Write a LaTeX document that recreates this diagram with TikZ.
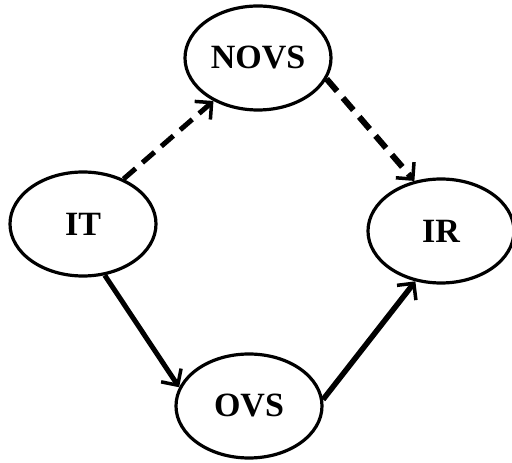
\documentclass[tikz,border=0pt]{standalone}
\usepackage{fontspec}
\setmainfont{Liberation Serif}
\usetikzlibrary{arrows.meta,shapes.geometric}
\begin{document}
\begin{tikzpicture}[x=1pt,y=1pt,
  ell/.style={draw, ellipse, line width=3.2pt, minimum width=146pt, minimum height=104pt, inner sep=0pt, font=\fontsize{34}{36}\selectfont\bfseries},
  conn/.style={line width=5pt, -{Straight Barb[length=12pt,width=24pt,line width=3.5pt]}},
  dconn/.style={conn, dash pattern=on 16pt off 9pt}]
\useasboundingbox (0,0) rectangle (512,463);
\node[ell] (NOVS) at (258,405) {NOVS};
\node[ell] (IT) at (83,239) {IT};
\node[ell] (IR) at (441,232) {IR};
\node[ell] (OVS) at (249,57) {OVS};
\draw[dconn] (IT.48) -- (NOVS.224);
\draw[dconn, line width=6pt] (NOVS.343) -- (IR.118);
\draw[conn] (IT.293) -- (OVS.165);
\draw[conn, line width=5.5pt] (OVS.5) -- (IR.243);
\end{tikzpicture}
\end{document}
